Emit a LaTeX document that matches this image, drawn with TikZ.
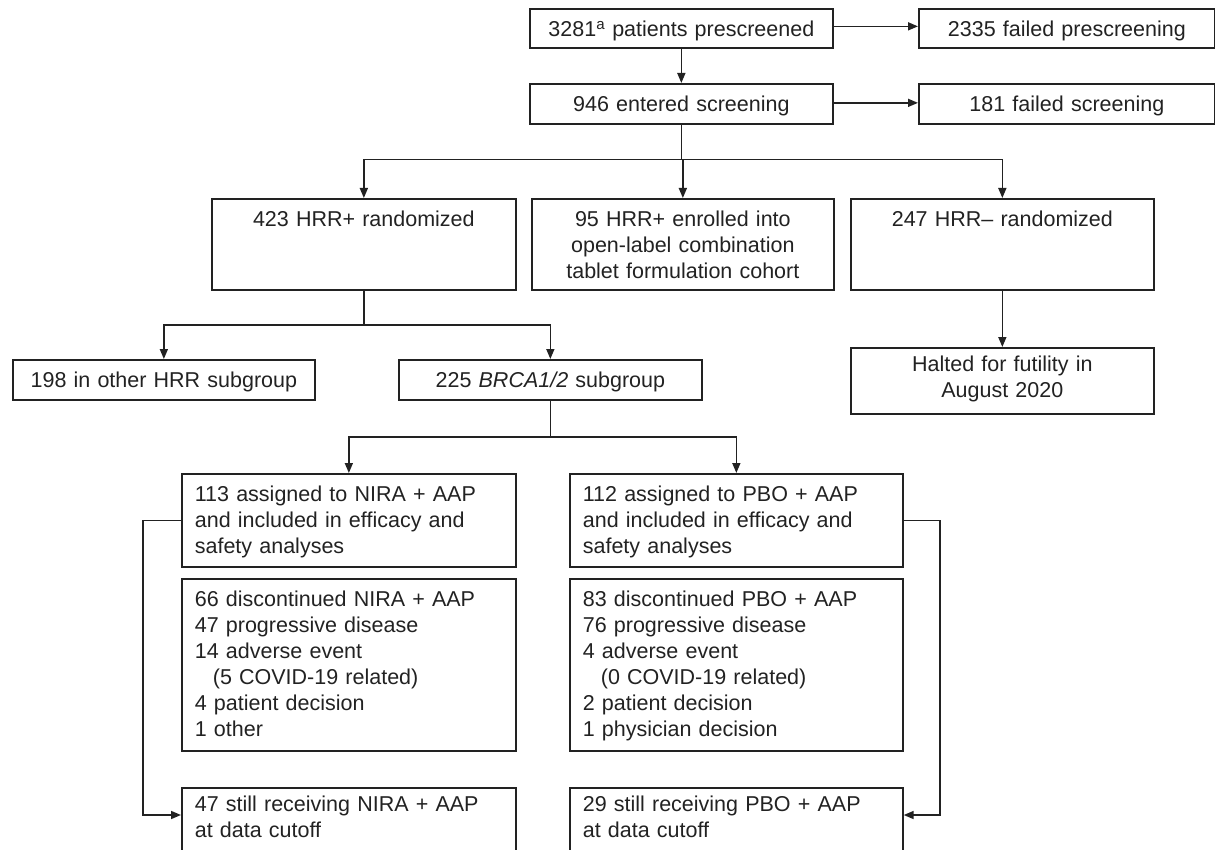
\documentclass[tikz,border=0pt]{standalone}
\usepackage{fontspec}
\setmainfont{Liberation Sans}
\usetikzlibrary{arrows.meta}
\definecolor{ink}{HTML}{222222}

\begin{document}
\begin{tikzpicture}[x=1pt,y=-1pt,
  box/.style={draw=ink,line width=1.7pt,anchor=north west,inner xsep=13pt,inner ysep=0pt,
    text height=27.8pt,text=ink,font=\fontsize{21.5}{26}\selectfont},
  cbox/.style={box,align=center},
  lbox/.style={box,align=left},
  link/.style={draw=ink,line width=1.6pt},
  arr/.style={link,-{Triangle[length=10pt,width=8pt]}}]
 \useasboundingbox (0,0) rectangle (1215,850);
 \clip (0,0) rectangle (1215,850);

 \node[cbox,text width=277pt,text depth=11.2pt] (pre) at (529,8) {3281\textsuperscript{a} patients prescreened};
 \node[cbox,text width=270pt,text depth=11.2pt] (failpre) at (918,8) {2335 failed prescreening};
 \node[cbox,text width=277pt,text depth=12.2pt] (scr) at (529,83) {946 entered screening};
 \node[cbox,text width=270pt,text depth=12.2pt] (failscr) at (918,83) {181 failed screening};

 \node[cbox,text width=278pt,text depth=63.2pt] (hrrp) at (211,198) {423 HRR+ randomized};
 \node[cbox,text width=276pt,text depth=63.2pt] (cohort) at (531,198) {95 HRR+ enrolled into\\open-label combination\\tablet formulation cohort};
 \node[cbox,text width=277pt,text depth=63.2pt] (hrrn) at (850,198) {247 HRR\textendash{} randomized};

 \node[cbox,text width=276pt,text depth=12.2pt] (other) at (12,359) {198 in other HRR subgroup};
 \node[cbox,text width=277pt,text depth=12.2pt] (brca) at (398,359) {225 \textit{BRCA1/2} subgroup};
 \node[cbox,text width=277pt,text height=24pt,text depth=42pt] (halt) at (850,347) {Halted for futility in\\August 2020};

 \node[lbox,text width=308pt,text depth=65.2pt] (nira) at (181,473) {113 assigned to NIRA + AAP\\and included in efficacy and\\safety analyses};
 \node[lbox,text width=307pt,text depth=65.2pt] (pbo) at (569,473) {112 assigned to PBO + AAP\\and included in efficacy and\\safety analyses};
 \node[lbox,text width=308pt,text depth=144.2pt] (dnira) at (181,578) {66 discontinued NIRA + AAP\\47 progressive disease\\14 adverse event\\\hspace*{18pt}(5 COVID-19 related)\\4 patient decision\\1 other};
 \node[lbox,text width=307pt,text depth=144.2pt] (dpbo) at (569,578) {83 discontinued PBO + AAP\\76 progressive disease\\4 adverse event\\\hspace*{18pt}(0 COVID-19 related)\\2 patient decision\\1 physician decision};
 \node[lbox,text width=308pt,text height=23.8pt,text depth=60pt] (snira) at (181,787) {47 still receiving NIRA + AAP\\at data cutoff};
 \node[lbox,text width=307pt,text height=23.8pt,text depth=60pt] (spbo) at (569,787) {29 still receiving PBO + AAP\\at data cutoff};

 \draw[arr] (pre) -- (scr);
 \draw[arr] ([yshift=2pt]pre.east) -- ([yshift=2pt]failpre.west);
 \draw[arr] ([yshift=1pt]scr.east) -- ([yshift=1pt]failscr.west);

 \coordinate (split1) at ([yshift=-35pt]scr.south);
 \draw[link] (scr.south) -- (split1);
 \draw[arr] (split1) -| (hrrp.north);
 \draw[arr] (split1) -| (cohort.north);
 \draw[arr] (split1) -| (hrrn.north);
 \draw[arr] (hrrn) -- (halt);

 \coordinate (split2) at ([yshift=-34pt]hrrp.south);
 \draw[link] (hrrp.south) -- (split2);
 \draw[arr] (split2) -| (other.north);
 \draw[arr] (split2) -| (brca.north);

 \coordinate (split3) at ([yshift=-36pt]brca.south);
 \draw[link] (brca.south) -- (split3);
 \draw[arr] (split3) -| (nira.north);
 \draw[arr] (split3) -| (pbo.north);

 \draw[arr] (nira.west) -- ++(-38,0) |- ([yshift=-28pt]snira.north west);
 \draw[arr] (pbo.east) -- ++(36,0) |- ([yshift=-28pt]spbo.north east);
\end{tikzpicture}
\end{document}
